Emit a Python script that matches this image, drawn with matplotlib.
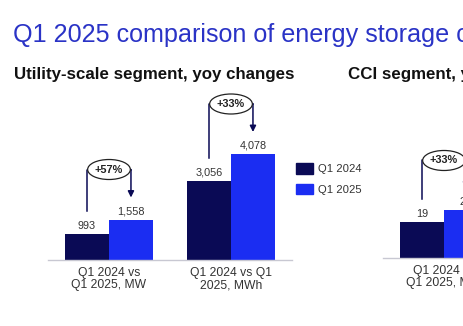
import matplotlib.pyplot as plt
from matplotlib.patches import Ellipse, Patch

plt.rcParams['font.family'] = ['Liberation Sans', 'DejaVu Sans']

W, H = 463, 326
DARK = '#0a0a55'
BLUE = '#1b2df2'
TXT = '#333333'

# utility-scale segment
util_groups = ['Q1 2024 vs\nQ1 2025, MW', 'Q1 2024 vs Q1\n2025, MWh']
util_2024 = [993, 3056]
util_2025 = [1558, 4078]
util_yoy = ['+57%', '+33%']

# CCI segment (cut off on the right in the picture)
cci_groups = ['Q1 2024 vs\nQ1 2025, MW']
cci_2024 = [19]
cci_2025 = [25]
cci_yoy = ['+33%']

series_names = ['Q1 2024', 'Q1 2025']


def add_ax(fig, l, r, t, b):
    # pixel box -> figure fraction
    return fig.add_axes([l / W, 1 - b / H, (r - l) / W, (b - t) / H])


def panel(ax, groups, v24, v25, yoy, ymax, hpx):
    px = ymax / hpx  # data units per pixel
    bw = 0.36
    xs = list(range(len(groups)))
    ax.bar([x - bw / 2 for x in xs], v24, bw, color=DARK)
    ax.bar([x + bw / 2 for x in xs], v25, bw, color=BLUE)
    for x, a, b, lab in zip(xs, v24, v25, yoy):
        x1, x2 = x - bw / 2, x + bw / 2
        ax.text(x1, a + 5 * px, f'{a:,}', ha='center', va='baseline', fontsize=7.8, color=TXT)
        ax.text(x2, b + 5 * px, f'{b:,}', ha='center', va='baseline', fontsize=7.8, color=TXT)
        ye = max(a, b) + 50 * px
        ax.plot([x1, x1, x2], [a + 23 * px, ye, ye], color=DARK, lw=1.1,
                solid_joinstyle='round', clip_on=False)
        ax.annotate('', xy=(x2, b + 22 * px), xytext=(x2, ye),
                    arrowprops=dict(arrowstyle='-|>', color=DARK, lw=1.1,
                                    mutation_scale=9, shrinkA=0, shrinkB=0))
        ax.add_patch(Ellipse((x, ye), 0.35, 20 * px, facecolor='white',
                             edgecolor='#222222', lw=0.9, zorder=3, clip_on=False))
        ax.text(x, ye, lab, ha='center', va='center', fontsize=7.8,
                fontweight='bold', color='#222222', zorder=4)

    ax.set_xlim(-0.5, 1.5)
    ax.set_ylim(0, ymax)
    ax.set_xticks(xs, groups, fontsize=8.7, color=TXT, linespacing=1.05)
    ax.tick_params(axis='x', length=0, pad=5)
    ax.set_yticks([])
    for s in ['left', 'right', 'top']:
        ax.spines[s].set_visible(False)
    ax.spines['bottom'].set_color('#c8c8d2')
    ax.spines['bottom'].set_linewidth(1)
    ax.patch.set_alpha(0)


fig = plt.figure(figsize=(W / 100, H / 100), dpi=100)

fig.text(13 / W, 1 - 35 / H, 'Q1 2025 comparison of energy storage capacity',
         fontsize=18.1, color='#2a33c6', va='center', ha='left')
fig.text(14 / W, 1 - 74 / H, 'Utility-scale segment, yoy changes',
         fontsize=12.2, fontweight='bold', color='#111111', va='center', ha='left')
fig.text(348 / W, 1 - 74 / H, 'CCI segment, yoy changes',
         fontsize=12.2, fontweight='bold', color='#111111', va='center', ha='left')

ax1 = add_ax(fig, 48, 292, 90, 260)
panel(ax1, util_groups, util_2024, util_2025, util_yoy, 6540, 170)

ax2 = add_ax(fig, 383, 627, 90, 258)
panel(ax2, cci_groups, cci_2024, cci_2025, cci_yoy, 88.4, 168)

handles = [Patch(color=DARK), Patch(color=BLUE)]
fig.legend(handles, series_names, loc='upper left', bbox_to_anchor=(294 / W, 1 - 161 / H),
           frameon=False, fontsize=8.1, handlelength=1.45, handleheight=1.05,
           handletextpad=0.45, labelspacing=0.85, borderaxespad=0, borderpad=0.2,
           labelcolor=TXT)

fig.savefig('out.png', dpi=100)
